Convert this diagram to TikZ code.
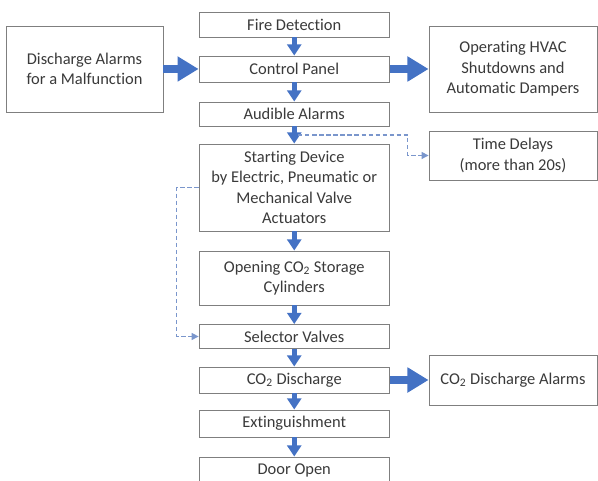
\documentclass[tikz,border=0pt]{standalone}
\usepackage{fontspec}
\setmainfont{Carlito}[Ligatures=NoCommon]
\usetikzlibrary{arrows.meta,calc}
\definecolor{flowblue}{HTML}{4472C4}
\definecolor{dashblue}{HTML}{7A96CC}
\definecolor{boxline}{HTML}{7F7F7F}
\definecolor{boxtext}{HTML}{3A3A3A}
\begin{document}
\begin{tikzpicture}[every node/.style={font=\fontsize{11.7}{14.5}\selectfont,text=boxtext},
  box/.style={draw=boxline,line width=0.6pt,fill=white,align=center,inner sep=1pt},
  stepbox/.style={box,minimum width=4.76cm},
  sidebox/.style={box,minimum width=4.2cm},
  down/.style={flowblue,line width=3.5pt,-{Triangle[width=10pt,length=8pt]}},
  fat/.style={flowblue,line width=6pt,-{Triangle[width=17pt,length=15pt]}},
  delayline/.style={dashblue,line width=0.8pt,dash pattern=on 3pt off 2pt,-{Triangle[width=5pt,length=5pt]}}]
  \useasboundingbox (0,0) rectangle (14.95,12);
  % main sequence
  \node[stepbox,minimum height=0.625cm] (fire) at (7.356,11.388) {Fire Detection};
  \node[stepbox,minimum height=0.65cm] (panel) at (7.356,10.275) {Control Panel};
  \node[stepbox,minimum height=0.6cm] (audible) at (7.356,9.15) {Audible Alarms};
  \node[stepbox,minimum height=2.175cm] (starting) at (7.356,7.313) {Starting Device\\by Electric, Pneumatic or\\Mechanical Valve\\Actuators};
  \node[stepbox,minimum height=1.35cm] (opening) at (7.356,5.05) {Opening CO\textsubscript{2} Storage\\Cylinders};
  \node[stepbox,minimum height=0.6cm] (selector) at (7.356,3.588) {Selector Valves};
  \node[stepbox,minimum height=0.65cm] (discharge) at (7.356,2.5) {CO\textsubscript{2} Discharge};
  \node[stepbox,minimum height=0.675cm] (exting) at (7.356,1.413) {Extinguishment};
  \node[stepbox,minimum height=0.65cm] (door) at (7.356,0.25) {Door Open};
  % side boxes
  \node[box,minimum width=3.925cm,minimum height=2.15cm] (malfunction) at (2.113,10.275) {Discharge Alarms\\for a Malfunction};
  \node[sidebox,minimum height=2.15cm] (hvac) at (12.825,10.275) {Operating HVAC\\Shutdowns and\\Automatic Dampers};
  \node[sidebox,minimum height=1.225cm] (delay) at (12.825,8.113) {Time Delays\\(more than 20s)};
  \node[sidebox,minimum height=1.25cm] (alarms) at (12.825,2.5) {CO\textsubscript{2} Discharge Alarms};
  % flow
  \draw[down] (fire) -- (panel);
  \draw[down] (panel) -- (audible);
  \draw[down] (audible) -- (starting);
  \draw[down] (starting) -- (opening);
  \draw[down] (opening) -- (selector);
  \draw[down] (selector) -- (discharge);
  \draw[down] (discharge) -- (exting);
  \draw[down] (exting) -- (door);
  \draw[fat] (malfunction) -- (panel);
  \draw[fat] (panel) -- (hvac);
  \draw[fat] (discharge) -- (alarms);
  % dashed branches
  \coordinate (tap) at ($(audible.south)!0.5!(starting.north)+(0.1,0)$);
  \draw[delayline] (tap) -| ($(delay.west)+(-0.525,0)$) -- (delay.west);
  \draw[delayline] (starting.west) -- ++(-0.55,0) |- (selector.west);
\end{tikzpicture}
\end{document}
